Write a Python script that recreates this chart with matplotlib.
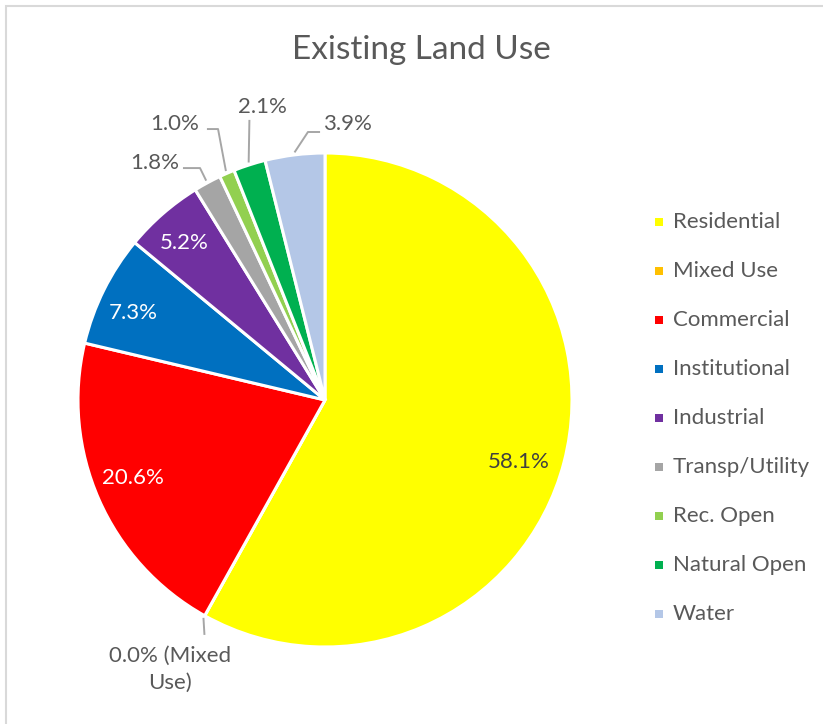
import matplotlib.pyplot as plt
import numpy as np
from matplotlib.patches import Rectangle

# land use shares (percent of total area)
categories = ["Residential", "Mixed Use", "Commercial", "Institutional", "Industrial",
              "Transp/Utility", "Rec. Open", "Natural Open", "Water"]
shares = [58.1, 0.0, 20.6, 7.3, 5.2, 1.8, 1.0, 2.1, 3.9]
colors = ["#FFFF00", "#FFC000", "#FF0000", "#0070C0", "#7030A0",
          "#A5A5A5", "#92D050", "#00B050", "#B4C7E7"]

plt.rcParams['font.family'] = ['Lato', 'DejaVu Sans']

W, H = 823, 724
CX, CY, R = 325, 400, 247
GRAY = "#595959"
LEADER = "#A6A6A6"

fig = plt.figure(figsize=(W / 100, H / 100), dpi=100)
fig.patch.set_facecolor("white")

# light frame round the chart area
fig.add_artist(Rectangle((6 / W, -0.05), 1.2, 1 - 5.5 / H + 0.05, transform=fig.transFigure,
                         facecolor="none", edgecolor="#D9D9D9", lw=1.5))

ax = fig.add_axes([(CX - R) / W, (H - CY - R) / H, 2 * R / W, 2 * R / H])
wedges, _ = ax.pie(shares, colors=colors, startangle=90, counterclock=False,
                   radius=1, wedgeprops=dict(edgecolor="white", linewidth=2.2))
ax.set_xlim(-1, 1)
ax.set_ylim(-1, 1)
ax.set_aspect("equal")
ax.axis("off")

fig.text(421 / W, 1 - 50 / H, "Existing Land Use", ha="center", va="center",
         fontsize=24, color=GRAY)


def mid_point(w, r=1.0):
    a = np.deg2rad((w.theta1 + w.theta2) / 2)
    return r * np.cos(a), r * np.sin(a)


labels = [f"{v:.1f}%" for v in shares]
labels[1] = labels[1] + " (Mixed\nUse)"

# labels sitting on the slices
inside = {0: ((0.783, -0.251), "#404040"),
          2: ((-0.777, -0.316), "white"),
          3: ((-0.777, 0.352), "white"),
          4: ((-0.571, 0.636), "white")}
for i, (pos, col) in inside.items():
    ax.text(pos[0], pos[1], labels[i], ha="center", va="center", fontsize=16, color=col)

# labels outside with leader lines: text position, alignment, line path before the slice
outside = {
    1: ((-0.628, -1.090), "center", [(-0.488, -0.951)]),
    5: ((-0.590, 0.960), "right", [(-0.575, 0.939), (-0.506, 0.939)]),
    6: ((-0.510, 1.117), "right", [(-0.478, 1.097), (-0.433, 1.097)]),
    7: ((-0.255, 1.186), "center", [(-0.306, 1.134)]),
    8: ((-0.008, 1.117), "left", [(-0.020, 1.085), (-0.069, 1.085)]),
}
for i, (pos, ha, path) in outside.items():
    ax.text(pos[0], pos[1], labels[i], ha=ha, va="center", fontsize=16, color=GRAY,
            multialignment="center", linespacing=1.4)
    ex, ey = mid_point(wedges[i], 1.01)
    xs = [p[0] for p in path] + [ex]
    ys = [p[1] for p in path] + [ey]
    ax.plot(xs, ys, color=LEADER, lw=1.4, clip_on=False, solid_capstyle="butt")

# legend down the right side
for i, (cat, col) in enumerate(zip(categories, colors)):
    y = 1 - (222 + 49 * i) / H
    fig.add_artist(Rectangle((655 / W, y - 4 / H), 8 / W, 8 / H, transform=fig.transFigure,
                             facecolor=col, edgecolor="none"))
    fig.text(673 / W, y, cat, ha="left", va="center", fontsize=16, color=GRAY)

fig.savefig("out.png", dpi=100)
